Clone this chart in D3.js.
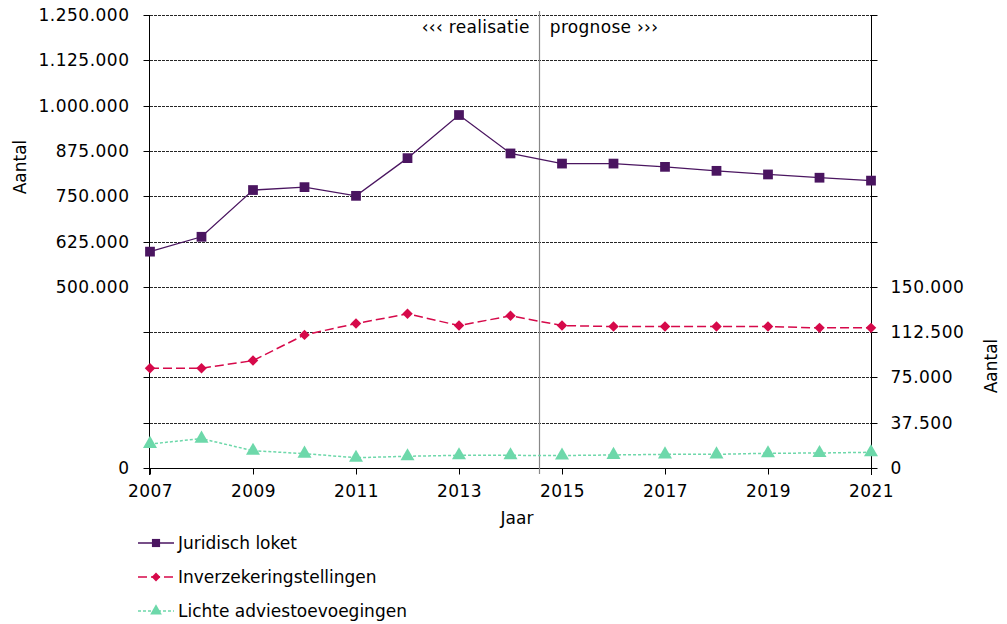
<!DOCTYPE html>
<html><head><meta charset="utf-8">
<script src="https://cdn.jsdelivr.net/npm/d3@7"></script>
<style>
body{margin:0;background:#fff;}
svg{display:block;font-family:"DejaVu Sans",Verdana,sans-serif;}
</style></head>
<body><svg id="c" width="1007" height="624"></svg>
<script>
const years = [2007,2008,2009,2010,2011,2012,2013,2014,2015,2016,2017,2018,2019,2020,2021];
const juridischLoket = [597000,638000,767000,775000,751000,855000,974000,868000,840000,840000,831000,820000,810000,801000,793000];
const inverzekering = [82600,82600,88900,110200,119600,127600,117900,126000,117900,117100,117100,117100,117100,116000,116000];
const lichteAdvies = [19900,24300,14300,11900,8500,9700,10500,10500,10300,10800,11300,11300,12200,12400,13000];
const leftTicks = [0,125000,250000,375000,500000,625000,750000,875000,1000000,1125000,1250000];
const leftLabeled = [0,500000,625000,750000,875000,1000000,1125000,1250000];
const rightTicks = [0,37500,75000,112500,150000,187500,225000,262500,300000,337500,375000];
const rightLabeled = [0,37500,75000,112500,150000];
const xTickYears = [2007,2009,2011,2013,2015,2017,2019,2021];
const seriesNames = ["Juridisch loket","Inverzekeringstellingen","Lichte adviestoevoegingen"];
const splitYear = 2014.55;

const svg = d3.select("#c");
const L = 150, R = 871, T = 15, B = 468;
const x = d3.scaleLinear().domain([2007,2021]).range([L,R]);
const yL = d3.scaleLinear().domain([0,1250000]).range([B,T]);
const yR = d3.scaleLinear().domain([0,375000]).range([B,T]);
const fmt = v => d3.format(",")(v).replace(/,/g,".");
const FS = 17;

// gridlines
svg.append("g").selectAll("line").data(leftTicks.slice(1)).join("line")
  .attr("x1",L).attr("x2",R).attr("y1",d=>Math.round(yL(d))+0.5).attr("y2",d=>Math.round(yL(d))+0.5)
  .attr("stroke","#000").attr("stroke-width",1).attr("stroke-dasharray","3,1").attr("opacity",0.85);

function styleText(sel, ls){ sel.attr("font-size",FS).attr("fill","#000").attr("font-family","DejaVu Sans").attr("letter-spacing",ls||"0px"); }

// left axis
const gl = svg.append("g").attr("transform",`translate(${L-0.5},0)`)
  .call(d3.axisLeft(yL).tickValues(leftTicks).tickSize(6).tickPadding(14).tickFormat(d=>leftLabeled.includes(d)?fmt(d):""));
gl.select(".domain").attr("d",`M0,${T}V${B+7}`).attr("stroke","#000");
gl.selectAll(".tick line").attr("stroke","#000");
styleText(gl.selectAll("text"),"0.5px");
gl.selectAll(".tick").attr("transform",d=>`translate(0,${Math.round(yL(d))+0.5})`);

// right axis
const gr = svg.append("g").attr("transform",`translate(${R+0.5},0)`)
  .call(d3.axisRight(yR).tickValues(rightTicks).tickSize(6).tickPadding(13).tickFormat(d=>rightLabeled.includes(d)?fmt(d):""));
gr.select(".domain").attr("d",`M0,${T}V${B+7}`).attr("stroke","#000");
gr.selectAll(".tick line").attr("stroke","#000");
styleText(gr.selectAll("text"),"0.5px");
gr.selectAll(".tick").attr("transform",d=>`translate(0,${Math.round(yR(d))+0.5})`);

// x axis
const gx = svg.append("g").attr("transform",`translate(0,${B+0.5})`)
  .call(d3.axisBottom(x).tickValues(xTickYears).tickSize(6).tickPadding(10).tickFormat(d3.format("d")));
gx.select(".domain").attr("d",`M${L},0H${R}`).attr("stroke","#000");
gx.selectAll(".tick line").attr("stroke","#000");
styleText(gx.selectAll("text"),"0.5px");

// split line
svg.append("line").attr("x1",Math.round(x(splitYear))+0.5).attr("x2",Math.round(x(splitYear))+0.5)
  .attr("y1",11).attr("y2",B+6).attr("stroke","#888").attr("stroke-width",1.2);
styleText(svg.append("text").attr("x",x(splitYear)-9).attr("y",33).attr("text-anchor","end").text("‹‹‹ realisatie"),"0.3px");
styleText(svg.append("text").attr("x",x(splitYear)+11).attr("y",33).attr("text-anchor","start").text("prognose ›››"),"0.3px");

// axis titles
styleText(svg.append("text").attr("transform",`translate(26,167) rotate(-90)`).attr("text-anchor","middle").text("Aantal"));
styleText(svg.append("text").attr("transform",`translate(997,366) rotate(-90)`).attr("text-anchor","middle").text("Aantal"));
styleText(svg.append("text").attr("x",517).attr("y",524).attr("text-anchor","middle").text("Jaar"));

// series
const colors = ["#4a1560","#d6094a","#6dd8aa"];
const dashes = [null,"9,4","3,2"];
const lineJ = d3.line().x((d,i)=>x(years[i])).y(d=>yL(d));
const lineR = d3.line().x((d,i)=>x(years[i])).y(d=>yR(d));
svg.append("path").attr("d",lineJ(juridischLoket)).attr("fill","none").attr("stroke",colors[0]).attr("stroke-width",1.3);
svg.append("path").attr("d",lineR(inverzekering)).attr("fill","none").attr("stroke",colors[1]).attr("stroke-width",1.5).attr("stroke-dasharray",dashes[1]);
svg.append("path").attr("d",lineR(lichteAdvies)).attr("fill","none").attr("stroke",colors[2]).attr("stroke-width",1.5).attr("stroke-dasharray",dashes[2]);

const sym = [d3.symbolSquare, d3.symbolDiamond2, d3.symbolTriangle];
const symSize = [95, 70, 85];
svg.append("g").selectAll("path").data(juridischLoket).join("path")
  .attr("transform",(d,i)=>`translate(${x(years[i])},${yL(d)})`).attr("d",d3.symbol(sym[0],symSize[0])).attr("fill",colors[0]);
svg.append("g").selectAll("path").data(inverzekering).join("path")
  .attr("transform",(d,i)=>`translate(${x(years[i])},${yR(d)})`).attr("d",d3.symbol(sym[1],symSize[1])).attr("fill",colors[1]);
svg.append("g").selectAll("path").data(lichteAdvies).join("path")
  .attr("transform",(d,i)=>`translate(${x(years[i])},${yR(d)})`).attr("d",d3.symbol(sym[2],symSize[2])).attr("fill",colors[2]);

// legend
const legY = [543,577,611];
seriesNames.forEach((name,i)=>{
  const g = svg.append("g");
  g.append("line").attr("x1",138).attr("x2",174).attr("y1",legY[i]).attr("y2",legY[i])
    .attr("stroke",colors[i]).attr("stroke-width",1.3).attr("stroke-dasharray",dashes[i]);
  g.append("path").attr("transform",`translate(156,${legY[i]})`).attr("d",d3.symbol(sym[i],symSize[i]*0.7)).attr("fill",colors[i]);
  styleText(g.append("text").attr("x",178).attr("y",legY[i]+6).text(name));
});
</script></body></html>
